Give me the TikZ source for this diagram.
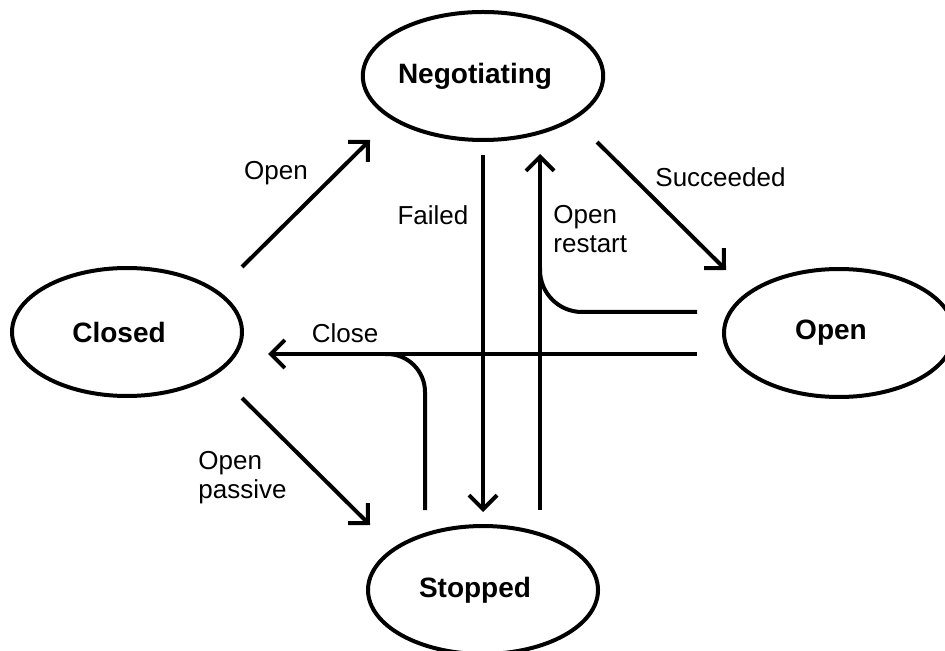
\documentclass[tikz,border=0pt]{standalone}
\usepackage{fontspec}
\setmainfont{Liberation Sans}
\usetikzlibrary{arrows.meta,shapes.geometric}

\begin{document}
\begin{tikzpicture}[x=0.5pt, y=-0.5pt,
  state/.style={draw, ellipse, line width=2pt, minimum width=115pt, minimum height=64pt, inner sep=0pt, font=\fontsize{14}{16}\selectfont\bfseries, execute at end node={\hspace*{8pt}}},
  link/.style={line width=2pt},
  arr/.style={link, -{Straight Barb[length=7pt,width=14pt]}},
  lbl/.style={inner sep=0pt, align=left, font=\fontsize{13}{14.5}\selectfont}]
          \useasboundingbox (0,0) rectangle (945,651);
          \node[state] (Negotiating) at (483,76) {Negotiating};
          \node[state] (Closed) at (127,332) {Closed};
          \node[state] (Open) at (839,333) {Open};
          \node[state] (Stopped) at (483,590) {Stopped};
          % free ends of the connectors
          \coordinate (openA) at (242,267);
          \coordinate (openB) at (370,140);
          \coordinate (succA) at (597,142);
          \coordinate (succB) at (726,270);
          \coordinate (passA) at (242,398);
          \coordinate (passB) at (370,525);
          \coordinate (failA) at (483,155);
          \coordinate (failB) at (483,512);
          \coordinate (restA) at (540,510);
          \coordinate (restB) at (540,154);
          \coordinate (restC) at (697,312);
          \coordinate (restD) at (540,268);
          \coordinate (closeA) at (697,354);
          \coordinate (closeB) at (268,354);
          \coordinate (closeC) at (425,510);
          \coordinate (closeD) at (385,354);
          \draw [arr] (openA) -- (openB);
          \draw [arr] (succA) -- (succB);
          \draw [arr] (passA) -- (passB);
          \draw [arr] (failA) -- (failB);
          \draw [arr] (restA) -- (restB);
          \draw [link, rounded corners=21pt] (restC) -| (restD);
          \draw [arr] (closeA) -- (closeB);
          \draw [link, rounded corners=19pt] (closeC) |- (closeD);
          \node[lbl] (lOpen) at (276,173) {Open};
          \node[lbl] (lFailed) at (433,215) {Failed};
          \node[lbl, anchor=west] (lRestart) at (553,229) {Open\\restart};
          \node[lbl, anchor=west] (lSucc) at (655,177) {Succeeded};
          \node[lbl] (lClose) at (345,333) {Close};
          \node[lbl, anchor=west] (lPassive) at (198,478) {Open\\passive};
        \end{tikzpicture}
\end{document}
